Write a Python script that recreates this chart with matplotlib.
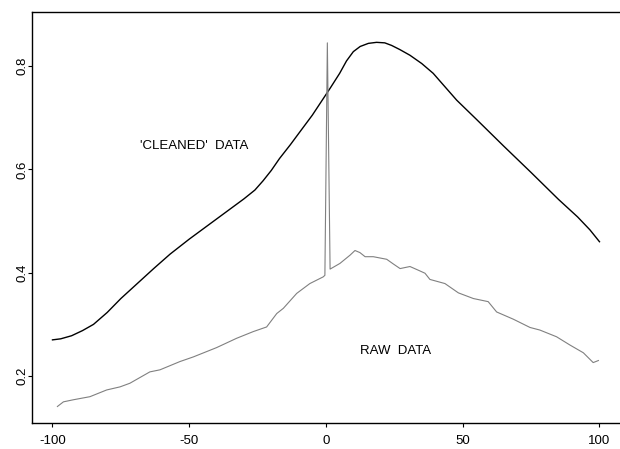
import numpy
import matplotlib
matplotlib.use('Agg')
import matplotlib.pyplot as plt

# сглаженная кривая
clean_x = [-100, -97, -93, -89, -85, -80, -75, -69, -63, -57, -50, -40, -30, -26, -23, -20, -17, -13,
           -9.5, -5, 0, 1.5, 5, 7.5, 10, 12.5, 15.5, 18.5, 21.5, 24, 27, 30.7, 35, 39.2, 43, 47.8, 55,
           65, 75, 85, 92, 96.5, 100]
clean_y = [0.270, 0.272, 0.278, 0.288, 0.300, 0.323, 0.350, 0.379, 0.408, 0.436, 0.465, 0.504, 0.543,
           0.560, 0.578, 0.598, 0.621, 0.648, 0.673, 0.705, 0.745, 0.757, 0.786, 0.810, 0.828, 0.838,
           0.844, 0.846, 0.845, 0.840, 0.832, 0.821, 0.805, 0.786, 0.763, 0.734, 0.697, 0.645, 0.594,
           0.542, 0.508, 0.483, 0.460]

# сырые данные
raw_x = [-98.2, -96, -92.4, -86.3, -80.2, -75.3, -71.7, -64.4, -60.7, -53.4, -48.5, -40, -32.7, -26.6,
         -21.7, -18, -15.6, -10.7, -5.9, -1, -0.4, 0.5, 1.5, 5.1, 8.8, 10.6, 12.4, 14.3, 17.3, 22.2,
         24.6, 27.1, 30.7, 33.7, 36.2, 38, 43.5, 48.4, 53.9, 59.3, 62.4, 68.5, 74.6, 78.2, 84.3, 89.2,
         94.1, 97.7, 99.6]
raw_y = [0.141, 0.150, 0.154, 0.160, 0.173, 0.179, 0.186, 0.208, 0.212, 0.228, 0.237, 0.255, 0.273,
         0.286, 0.295, 0.321, 0.331, 0.360, 0.379, 0.392, 0.395, 0.845, 0.407, 0.418, 0.434, 0.443,
         0.439, 0.431, 0.431, 0.426, 0.417, 0.408, 0.412, 0.405, 0.399, 0.387, 0.379, 0.361, 0.350,
         0.344, 0.324, 0.310, 0.294, 0.289, 0.276, 0.260, 0.245, 0.226, 0.230]

x_ticks = [-100, -50, 0, 50, 100]
y_ticks = [0.2, 0.4, 0.6, 0.8]

plt.rcParams['font.family'] = ['Liberation Sans', 'DejaVu Sans']

fig = plt.figure(figsize=(6.2, 4.49), dpi=100)
ax = fig.add_axes([0.052, 0.059, 0.948, 0.914])

ax.plot(clean_x, clean_y, color='black', linewidth=1.0)
ax.plot(raw_x, raw_y, color='0.5', linewidth=0.8)

ax.text(-48.3, 0.645, "'CLEANED'  DATA", ha='center', va='center', fontsize=9.5)
ax.text(25.4, 0.248, "RAW  DATA", ha='center', va='center', fontsize=9.5)

ax.set_xlim(-107.4, 107.5)
ax.set_ylim(0.110, 0.9045)
ax.set_xticks(x_ticks)
ax.set_xticklabels([str(t) for t in x_ticks])
ax.set_yticks(y_ticks)
ax.set_yticklabels([str(t) for t in y_ticks], rotation=90, va='center')
ax.tick_params(direction='out', length=3, width=0.8, labelsize=9.5)
ax.tick_params(axis='x', pad=6)
ax.tick_params(axis='y', pad=0)
ax.spines['right'].set_visible(False)
for s in ['left', 'bottom', 'top']:
    ax.spines[s].set_linewidth(1.0)

fig.savefig('out.png', dpi=100)
